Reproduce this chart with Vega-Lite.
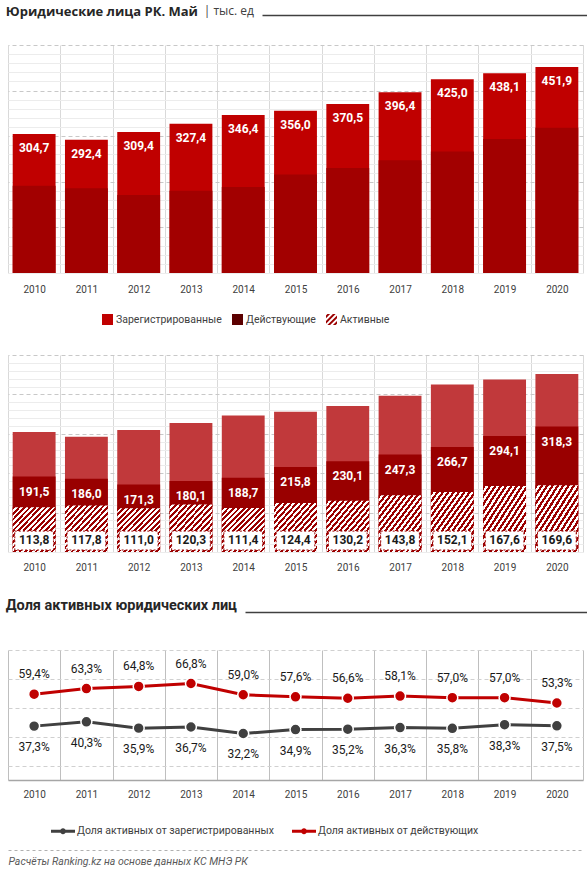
{
  "$schema": "https://vega.github.io/schema/vega-lite/v6.json",
  "padding": {"left": 5, "top": 0, "right": 0, "bottom": 0},
  "background": "white",
  "datasets": {
    "bars": [
      {"year": "2010", "Зарегистрированные": 304.7, "Действующие": 191.5, "Активные": 113.8},
      {"year": "2011", "Зарегистрированные": 292.4, "Действующие": 186.0, "Активные": 117.8},
      {"year": "2012", "Зарегистрированные": 309.4, "Действующие": 171.3, "Активные": 111.0},
      {"year": "2013", "Зарегистрированные": 327.4, "Действующие": 180.1, "Активные": 120.3},
      {"year": "2014", "Зарегистрированные": 346.4, "Действующие": 188.7, "Активные": 111.4},
      {"year": "2015", "Зарегистрированные": 356.0, "Действующие": 215.8, "Активные": 124.4},
      {"year": "2016", "Зарегистрированные": 370.5, "Действующие": 230.1, "Активные": 130.2},
      {"year": "2017", "Зарегистрированные": 396.4, "Действующие": 247.3, "Активные": 143.8},
      {"year": "2018", "Зарегистрированные": 425.0, "Действующие": 266.7, "Активные": 152.1},
      {"year": "2019", "Зарегистрированные": 438.1, "Действующие": 294.1, "Активные": 167.6},
      {"year": "2020", "Зарегистрированные": 451.9, "Действующие": 318.3, "Активные": 169.6}
    ],
    "shares": [
      {"year": "2010", "Доля активных от зарегистрированных": 0.373, "Доля активных от действующих": 0.594},
      {"year": "2011", "Доля активных от зарегистрированных": 0.403, "Доля активных от действующих": 0.633},
      {"year": "2012", "Доля активных от зарегистрированных": 0.359, "Доля активных от действующих": 0.648},
      {"year": "2013", "Доля активных от зарегистрированных": 0.367, "Доля активных от действующих": 0.668},
      {"year": "2014", "Доля активных от зарегистрированных": 0.322, "Доля активных от действующих": 0.590},
      {"year": "2015", "Доля активных от зарегистрированных": 0.349, "Доля активных от действующих": 0.576},
      {"year": "2016", "Доля активных от зарегистрированных": 0.352, "Доля активных от действующих": 0.566},
      {"year": "2017", "Доля активных от зарегистрированных": 0.363, "Доля активных от действующих": 0.581},
      {"year": "2018", "Доля активных от зарегистрированных": 0.358, "Доля активных от действующих": 0.570},
      {"year": "2019", "Доля активных от зарегистрированных": 0.383, "Доля активных от действующих": 0.570},
      {"year": "2020", "Доля активных от зарегистрированных": 0.375, "Доля активных от действующих": 0.533}
    ]
  },
  "spacing": 20,
  "vconcat": [
    {
      "spacing": 5,
      "hconcat": [
        {
          "width": 1,
          "height": 4,
          "data": {"values": [{}]},
          "mark": {"type": "point", "opacity": 0},
          "encoding": {},
          "title": {"text": "Юридические лица РК. Май", "orient": "bottom", "anchor": "start", "baseline": "top", "offset": 0, "font": "Open Sans", "fontSize": 13, "fontWeight": "bold", "color": "#262626"}
        },
        {
          "width": 1,
          "height": 5,
          "data": {"values": [{}]},
          "mark": {"type": "point", "opacity": 0},
          "encoding": {},
          "title": {"text": "| тыс. ед", "orient": "bottom", "anchor": "start", "baseline": "top", "offset": 0, "font": "Open Sans", "fontSize": 12, "fontWeight": "normal", "color": "#404040"}
        },
        {
          "width": 340,
          "height": 24,
          "data": {"values": [{}]},
          "mark": {"type": "point", "opacity": 0},
          "encoding": {
            "x": {"datum": 0, "type": "quantitative", "axis": {"orient": "top", "offset": -14, "domain": true, "domainColor": "#404040", "domainWidth": 1.5, "labels": false, "ticks": false, "grid": false, "title": null}}
          }
        }
      ]
    },
    {
      "width": 575,
      "height": 228,
      "data": {"name": "bars"},
      "encoding": {
        "x": {
          "field": "year", "type": "nominal", "title": null,
          "scale": {"paddingInner": 0, "paddingOuter": 0},
          "axis": {"tickBand": "extent", "grid": true, "gridColor": "#d9d9d9", "ticks": false, "domain": false, "labelAngle": 0, "labelPadding": 11}
        }
      },
      "layer": [
        {
          "mark": {"type": "bar", "color": "#c00000", "width": {"band": 0.82}},
          "encoding": {
            "y": {"field": "Зарегистрированные", "type": "quantitative", "scale": {"domain": [0, 500], "nice": false},
              "axis": {"values": [0, 20, 40, 60, 80, 120, 140, 160, 180, 220, 240, 260, 280, 320, 340, 360, 380, 420, 440, 460, 480], "grid": true, "gridColor": "#ececec", "labels": false, "ticks": false, "domain": false, "title": null}}
          }
        },
        {
          "mark": {"type": "bar", "color": "#a20000", "width": {"band": 0.82}},
          "encoding": {
            "y": {"field": "Действующие", "type": "quantitative",
              "axis": {"values": [100, 200, 300, 400, 500], "grid": true, "gridColor": "#c8c8c8", "gridDash": [4, 3], "labels": false, "ticks": false, "domain": false, "title": null}}
          }
        },
        {
          "mark": {"type": "text", "color": "white", "fontWeight": "bold", "fontSize": 12, "dy": 14, "baseline": "middle"},
          "encoding": {
            "y": {"field": "Зарегистрированные", "type": "quantitative", "axis": null},
            "text": {"field": "Зарегистрированные", "type": "quantitative", "format": ".1f"}
          }
        }
      ],
      "resolve": {"axis": {"y": "independent"}}
    },
    {
      "width": 575,
      "height": 197,
      "data": {"name": "bars"},
      "encoding": {
        "x": {
          "field": "year", "type": "nominal", "title": null,
          "scale": {"paddingInner": 0, "paddingOuter": 0},
          "axis": {"tickBand": "extent", "grid": true, "gridColor": "#d9d9d9", "ticks": false, "domain": false, "labelAngle": 0, "labelPadding": 10}
        }
      },
      "layer": [
        {
          "mark": {"type": "bar", "color": "#c1393b", "width": {"band": 0.82}},
          "encoding": {
            "y": {"field": "Зарегистрированные", "type": "quantitative", "scale": {"domain": [0, 500], "nice": false},
              "axis": {"values": [0, 20, 40, 60, 80, 120, 140, 160, 180, 220, 240, 260, 280, 320, 340, 360, 380, 420, 440, 460, 480], "grid": true, "gridColor": "#ececec", "labels": false, "ticks": false, "domain": false, "title": null}}
          }
        },
        {
          "mark": {"type": "bar", "color": "#990000", "width": {"band": 0.82}},
          "encoding": {
            "y": {"field": "Действующие", "type": "quantitative",
              "axis": {"values": [100, 200, 300, 400, 500], "grid": true, "gridColor": "#c8c8c8", "gridDash": [4, 3], "labels": false, "ticks": false, "domain": false, "title": null}}
          }
        },
        {
          "mark": {
            "type": "bar", "width": {"band": 0.82},
            "fill": {
              "gradient": "linear", "x1": 0, "y1": 0, "x2": 1, "y2": 1,
              "stops": [
                {"offset": 0, "color": "#9b0000"}, {"offset": 0.03125, "color": "#9b0000"}, {"offset": 0.03125, "color": "#ffffff"}, {"offset": 0.0625, "color": "#ffffff"},
                {"offset": 0.0625, "color": "#9b0000"}, {"offset": 0.09375, "color": "#9b0000"}, {"offset": 0.09375, "color": "#ffffff"}, {"offset": 0.125, "color": "#ffffff"},
                {"offset": 0.125, "color": "#9b0000"}, {"offset": 0.15625, "color": "#9b0000"}, {"offset": 0.15625, "color": "#ffffff"}, {"offset": 0.1875, "color": "#ffffff"},
                {"offset": 0.1875, "color": "#9b0000"}, {"offset": 0.21875, "color": "#9b0000"}, {"offset": 0.21875, "color": "#ffffff"}, {"offset": 0.25, "color": "#ffffff"},
                {"offset": 0.25, "color": "#9b0000"}, {"offset": 0.28125, "color": "#9b0000"}, {"offset": 0.28125, "color": "#ffffff"}, {"offset": 0.3125, "color": "#ffffff"},
                {"offset": 0.3125, "color": "#9b0000"}, {"offset": 0.34375, "color": "#9b0000"}, {"offset": 0.34375, "color": "#ffffff"}, {"offset": 0.375, "color": "#ffffff"},
                {"offset": 0.375, "color": "#9b0000"}, {"offset": 0.40625, "color": "#9b0000"}, {"offset": 0.40625, "color": "#ffffff"}, {"offset": 0.4375, "color": "#ffffff"},
                {"offset": 0.4375, "color": "#9b0000"}, {"offset": 0.46875, "color": "#9b0000"}, {"offset": 0.46875, "color": "#ffffff"}, {"offset": 0.5, "color": "#ffffff"},
                {"offset": 0.5, "color": "#9b0000"}, {"offset": 0.53125, "color": "#9b0000"}, {"offset": 0.53125, "color": "#ffffff"}, {"offset": 0.5625, "color": "#ffffff"},
                {"offset": 0.5625, "color": "#9b0000"}, {"offset": 0.59375, "color": "#9b0000"}, {"offset": 0.59375, "color": "#ffffff"}, {"offset": 0.625, "color": "#ffffff"},
                {"offset": 0.625, "color": "#9b0000"}, {"offset": 0.65625, "color": "#9b0000"}, {"offset": 0.65625, "color": "#ffffff"}, {"offset": 0.6875, "color": "#ffffff"},
                {"offset": 0.6875, "color": "#9b0000"}, {"offset": 0.71875, "color": "#9b0000"}, {"offset": 0.71875, "color": "#ffffff"}, {"offset": 0.75, "color": "#ffffff"},
                {"offset": 0.75, "color": "#9b0000"}, {"offset": 0.78125, "color": "#9b0000"}, {"offset": 0.78125, "color": "#ffffff"}, {"offset": 0.8125, "color": "#ffffff"},
                {"offset": 0.8125, "color": "#9b0000"}, {"offset": 0.84375, "color": "#9b0000"}, {"offset": 0.84375, "color": "#ffffff"}, {"offset": 0.875, "color": "#ffffff"},
                {"offset": 0.875, "color": "#9b0000"}, {"offset": 0.90625, "color": "#9b0000"}, {"offset": 0.90625, "color": "#ffffff"}, {"offset": 0.9375, "color": "#ffffff"},
                {"offset": 0.9375, "color": "#9b0000"}, {"offset": 0.96875, "color": "#9b0000"}, {"offset": 0.96875, "color": "#ffffff"}, {"offset": 1, "color": "#ffffff"}
              ]
            }
          },
          "encoding": {
            "y": {"field": "Активные", "type": "quantitative", "axis": null}
          }
        },
        {
          "mark": {"type": "bar", "fill": "white", "stroke": "#9b0000", "strokeDash": [2, 2], "strokeWidth": 1, "width": {"band": 0.74}},
          "encoding": {
            "y": {"datum": 53, "type": "quantitative", "axis": null},
            "y2": {"datum": 5}
          }
        },
        {
          "mark": {"type": "text", "color": "white", "fontWeight": "bold", "fontSize": 12, "dy": 15, "baseline": "middle"},
          "encoding": {
            "y": {"field": "Действующие", "type": "quantitative", "axis": null},
            "text": {"field": "Действующие", "type": "quantitative", "format": ".1f"}
          }
        },
        {
          "mark": {"type": "text", "color": "#1a1a1a", "fontWeight": "bold", "fontSize": 12, "dy": -12, "baseline": "middle"},
          "encoding": {
            "y": {"datum": 0, "type": "quantitative", "axis": null},
            "text": {"field": "Активные", "type": "quantitative", "format": ".1f"}
          }
        },
        {
          "transform": [{"fold": ["Зарегистрированные", "Действующие", "Активные"], "as": ["cat", "val"]}],
          "mark": {"type": "point", "filled": true, "opacity": 0},
          "encoding": {
            "color": {
              "field": "cat", "type": "nominal",
              "scale": {"domain": ["Зарегистрированные", "Действующие", "Активные"], "range": ["#c00000", "#5c0000", "#9b0000"]},
              "legend": {"orient": "none", "legendX": 94, "legendY": -41, "direction": "horizontal", "title": null, "symbolSize": 121, "symbolOpacity": 1, "symbolStrokeWidth": 0, "labelFontSize": 10.5, "labelColor": "#404040", "labelLimit": 0, "columnPadding": 10, "labelOffset": 3, "padding": 0}
            },
            "shape": {
              "field": "cat", "type": "nominal",
              "scale": {"domain": ["Зарегистрированные", "Действующие", "Активные"], "range": ["square", "square", "M-1,-0.75L-0.75,-1L-0.25,-1L-1,-0.25Z M-1,0.25L0.25,-1L0.75,-1L-1,0.75Z M-0.75,1L1,-0.75L1,-0.25L-0.25,1Z M0.25,1L1,0.25L1,0.75L0.75,1Z"]},
              "legend": {"orient": "none", "legendX": 94, "legendY": -41, "direction": "horizontal", "title": null, "symbolSize": 121, "symbolOpacity": 1, "symbolStrokeWidth": 0, "labelFontSize": 10.5, "labelColor": "#404040", "labelLimit": 0, "columnPadding": 10, "labelOffset": 3, "padding": 0}
            }
          }
        }
      ],
      "resolve": {"axis": {"y": "independent"}}
    },
    {
      "spacing": 5,
      "hconcat": [
        {
          "width": 1,
          "height": 7,
          "data": {"values": [{}]},
          "mark": {"type": "point", "opacity": 0},
          "encoding": {},
          "title": {"text": "Доля активных юридических лиц", "orient": "bottom", "anchor": "start", "baseline": "top", "offset": 0, "fontSize": 14.5, "fontWeight": "bold", "color": "#262626"}
        },
        {
          "width": 346,
          "height": 38,
          "data": {"values": [{}]},
          "mark": {"type": "point", "opacity": 0},
          "encoding": {
            "x": {"datum": 0, "type": "quantitative", "axis": {"orient": "top", "offset": -20, "domain": true, "domainColor": "#404040", "domainWidth": 1.5, "labels": false, "ticks": false, "grid": false, "title": null}}
          }
        }
      ]
    },
    {
      "width": 575,
      "height": 130,
      "data": {"name": "shares"},
      "transform": [{"fold": ["Доля активных от зарегистрированных", "Доля активных от действующих"], "as": ["series", "share"]}],
      "encoding": {
        "x": {
          "field": "year", "type": "nominal", "title": null,
          "scale": {"paddingInner": 0, "paddingOuter": 0},
          "axis": {"tickBand": "extent", "grid": true, "gridColor": "#bfbfbf", "ticks": false, "domain": true, "domainColor": "#a6a6a6", "domainWidth": 1.5, "labelAngle": 0, "labelPadding": 9}
        },
        "y": {
          "field": "share", "type": "quantitative", "scale": {"domain": [0, 0.9], "nice": false},
          "axis": {"values": [0.1, 0.3, 0.5, 0.7, 0.9], "grid": true, "gridColor": "#d0d0d0", "gridDash": [4, 3], "labels": false, "ticks": false, "domain": false, "title": null}
        },
        "color": {
          "field": "series", "type": "nominal",
          "scale": {"domain": ["Доля активных от зарегистрированных", "Доля активных от действующих"], "range": ["#404040", "#c00000"]},
          "legend": null
        }
      },
      "layer": [
        {"mark": {"type": "line", "strokeWidth": 3}},
        {"mark": {"type": "point", "filled": true, "size": 120, "opacity": 1, "stroke": "white", "strokeWidth": 1.5}},
        {
          "transform": [{"filter": "datum.series == 'Доля активных от действующих'"}],
          "mark": {"type": "text", "dy": -20, "fontSize": 12, "baseline": "middle"},
          "encoding": {
            "text": {"field": "share", "type": "quantitative", "format": ".1%"},
            "color": {"value": "#1a1a1a"}
          }
        },
        {
          "transform": [{"filter": "datum.series == 'Доля активных от зарегистрированных'"}],
          "mark": {"type": "text", "dy": 21, "fontSize": 12, "baseline": "middle"},
          "encoding": {
            "text": {"field": "share", "type": "quantitative", "format": ".1%"},
            "color": {"value": "#1a1a1a"}
          }
        }
      ]
    },
    {
      "width": 575,
      "height": 29,
      "data": {"name": "shares"},
      "transform": [{"fold": ["Доля активных от зарегистрированных", "Доля активных от действующих"], "as": ["series", "share"]}],
      "mark": {"type": "point", "filled": true, "opacity": 0},
      "encoding": {
        "x": {
          "field": "year", "type": "nominal",
          "axis": {"orient": "bottom", "domain": true, "domainColor": "#b0b0b0", "domainDash": [3, 3], "domainWidth": 1, "labels": false, "ticks": false, "grid": false,
            "title": "Расчёты Ranking.kz на основе данных  КС МНЭ РК", "titleAnchor": "start", "titleAlign": "left", "titleFontStyle": "italic", "titleFontWeight": "normal", "titleFontSize": 10.5, "titleColor": "#595959", "titlePadding": 6}
        },
        "color": {
          "field": "series", "type": "nominal",
          "scale": {"domain": ["Доля активных от зарегистрированных", "Доля активных от действующих"], "range": ["#404040", "#c00000"]},
          "legend": {"orient": "none", "legendX": 43, "legendY": -2, "direction": "horizontal", "title": null, "symbolSize": 576, "symbolOpacity": 1, "symbolStrokeWidth": 0, "labelFontSize": 10.5, "labelColor": "#404040", "labelLimit": 0, "columnPadding": 18, "labelOffset": 2, "padding": 0}
        },
        "shape": {
          "field": "series", "type": "nominal",
          "scale": {"domain": ["Доля активных от зарегистрированных", "Доля активных от действующих"], "range": ["M-1,-0.12L1,-0.12L1,0.12L-1,0.12Z M-0.25,0A0.25,0.25,0,1,1,0.25,0A0.25,0.25,0,1,1,-0.25,0Z", "M-1,-0.12L1,-0.12L1,0.12L-1,0.12Z M-0.25,0A0.25,0.25,0,1,1,0.25,0A0.25,0.25,0,1,1,-0.25,0Z"]},
          "legend": {"orient": "none", "legendX": 43, "legendY": -2, "direction": "horizontal", "title": null, "symbolSize": 576, "symbolOpacity": 1, "symbolStrokeWidth": 0, "labelFontSize": 10.5, "labelColor": "#404040", "labelLimit": 0, "columnPadding": 18, "labelOffset": 2, "padding": 0}
        }
      }
    }
  ],
  "resolve": {
    "scale": {"color": "independent", "shape": "independent", "x": "independent", "y": "independent"},
    "legend": {"color": "independent", "shape": "independent"}
  },
  "config": {
    "font": "Roboto",
    "view": {"stroke": null},
    "axis": {"labelFont": "Roboto", "labelColor": "#404040", "labelFontSize": 10},
    "legend": {"labelFont": "Roboto"},
    "title": {"font": "Roboto"},
    "locale": {"number": {"decimal": ",", "thousands": " ", "grouping": [3], "currency": ["", ""]}}
  }
}
